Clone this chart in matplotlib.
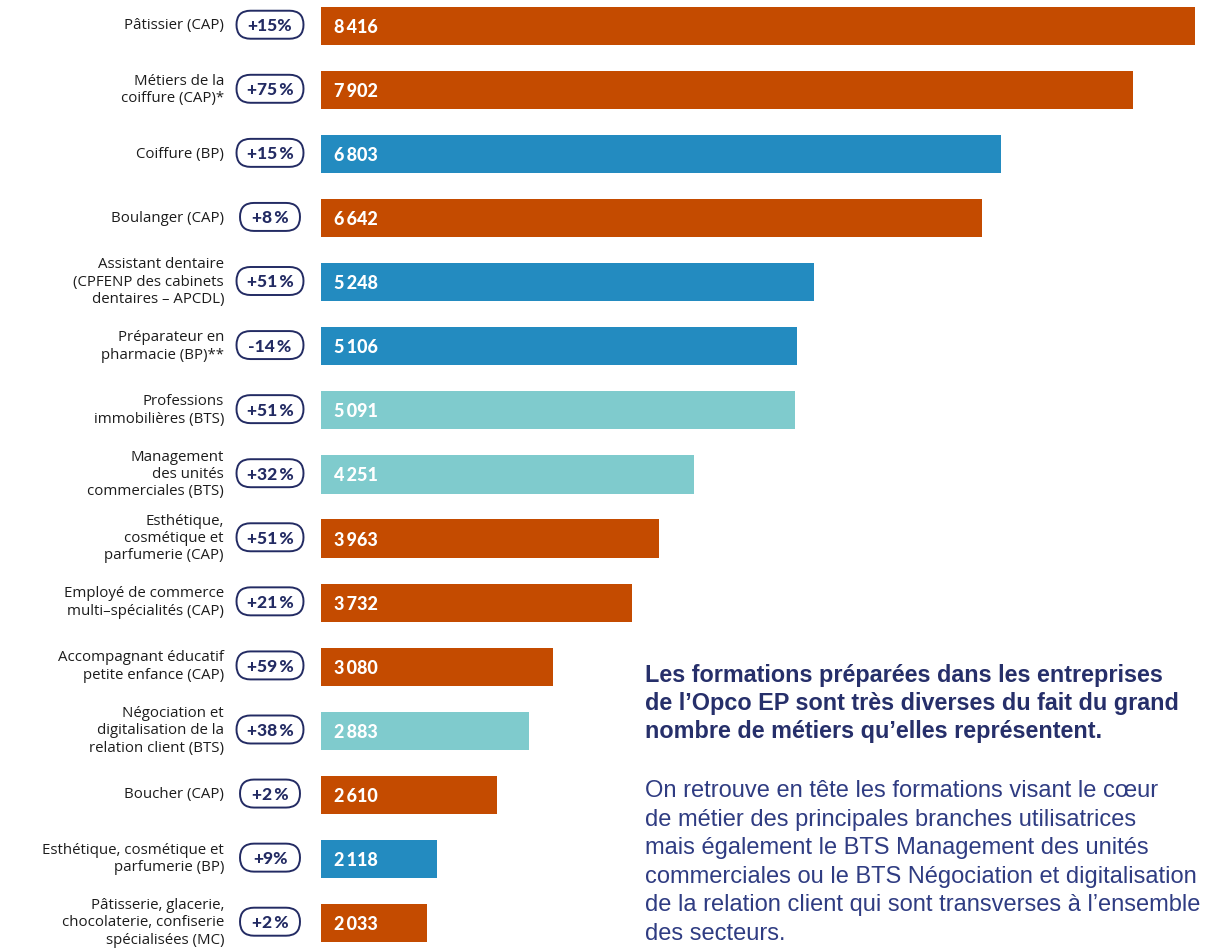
import matplotlib
matplotlib.use("Agg")
import matplotlib.pyplot as plt
from matplotlib.patches import FancyBboxPatch

# ---------------- data ----------------
labels = [
    "Pâtissier (CAP)",
    "Métiers de la\ncoiffure (CAP)*",
    "Coiffure (BP)",
    "Boulanger (CAP)",
    "Assistant dentaire\n(CPFENP des cabinets\ndentaires – APCDL)",
    "Préparateur en\npharmacie (BP)**",
    "Professions\nimmobilières (BTS)",
    "Management\ndes unités\ncommerciales (BTS)",
    "Esthétique,\ncosmétique et\nparfumerie (CAP)",
    "Employé de commerce\nmulti–spécialités (CAP)",
    "Accompagnant éducatif\npetite enfance (CAP)",
    "Négociation et\ndigitalisation de la\nrelation client (BTS)",
    "Boucher (CAP)",
    "Esthétique, cosmétique et\nparfumerie (BP)",
    "Pâtisserie, glacerie,\nchocolaterie, confiserie\nspécialisées (MC)",
]
values = [8416, 7902, 6803, 6642, 5248, 5106, 5091, 4251, 3963, 3732, 3080, 2883, 2610, 2118, 2033]
changes = ["+15%", "+75 %", "+15 %", "+8 %", "+51 %", "-14 %", "+51 %", "+32 %",
           "+51 %", "+21 %", "+59 %", "+38 %", "+2 %", "+9%", "+2 %"]
groups = ["CAP", "CAP", "BP", "CAP", "BP", "BP", "BTS", "BTS",
          "CAP", "CAP", "CAP", "BTS", "CAP", "BP", "CAP"]

heading_lines = [
    "Les formations préparées dans les entreprises",
    "de l’Opco EP sont très diverses du fait du grand",
    "nombre de métiers qu’elles représentent.",
]
body_lines = [
    "On retrouve en tête les formations visant le cœur",
    "de métier des principales branches utilisatrices",
    "mais également le BTS Management des unités",
    "commerciales ou le BTS Négociation et digitalisation",
    "de la relation client qui sont transverses à l’ensemble",
    "des secteurs.",
]

# ---------------- style ----------------
group_colors = {"CAP": "#C44B00", "BP": "#238BC0", "BTS": "#7FCBCD"}
navy = "#232B63"
W, H, DPI = 1209, 951, 100
FONT = ["Open Sans", "DejaVu Sans"]
BFONT = ["Lato", "DejaVu Sans"]
TFONT = ["Liberation Sans", "DejaVu Sans"]

fig = plt.figure(figsize=(W / DPI, H / DPI), dpi=DPI)
fig.patch.set_facecolor("white")

n = len(values)
y = list(range(n))
row0_px, row_step = 26.0, 64.07
ylim = ((H - row0_px) / row_step, -row0_px / row_step)

ax_left_px = 321
x0 = 1150  # visual baseline of the bars
scale = 874 / (values[0] - x0)
x1 = x0 + (W - ax_left_px) / scale

ax = fig.add_axes([ax_left_px / W, 0, 1 - ax_left_px / W, 1])
ax.barh(y, values, height=0.595, color=[group_colors[g] for g in groups], zorder=2)
ax.set_xlim(x0, x1)
ax.set_ylim(*ylim)
ax.axis("off")

# overlay axes: x in pixels, y in row index
ov = fig.add_axes([0, 0, 1, 1], facecolor="none")
ov.set_xlim(0, W)
ov.set_ylim(*ylim)
ov.axis("off")

aspect = 1 / row_step
for i, (lab, v, ch) in enumerate(zip(labels, values, changes)):
    ov.text(224, i, lab, ha="right", va="center", fontsize=10.8, color="#1c1c1c",
            family=FONT, linespacing=1.22, multialignment="right")
    ov.text(334, i, f"{v:,}".replace(",", "\u2009"), ha="left", va="center_baseline",
            fontsize=13, color="white", fontweight="black", family=BFONT)
    bw = 67 if len(ch.replace(" ", "")) >= 4 else 60
    bh = 28 / row_step
    patch = FancyBboxPatch((270 - bw / 2, i - bh / 2 - 0.02), bw, bh,
                           boxstyle="round,pad=0,rounding_size=14",
                           mutation_aspect=aspect, facecolor="white",
                           edgecolor=navy, linewidth=1.4, zorder=3)
    ov.add_patch(patch)
    ov.text(270, i - 0.02, ch.replace(" ", "\u2009"), ha="center", va="center_baseline",
            fontsize=12.5, color=navy, fontweight="black", family=BFONT, zorder=4)

# text block
for k, line in enumerate(heading_lines):
    fig.text(645 / W, 1 - (682 + 28.2 * k) / H, line, ha="left", va="baseline",
             fontsize=16.85, fontweight="bold", color="#262F6A", family=TFONT)
for k, line in enumerate(body_lines):
    fig.text(645 / W, 1 - (797 + 28.6 * k) / H, line, ha="left", va="baseline",
             fontsize=17, color="#2F3C82", family=TFONT)

fig.savefig("out.png", dpi=DPI, facecolor="white")
